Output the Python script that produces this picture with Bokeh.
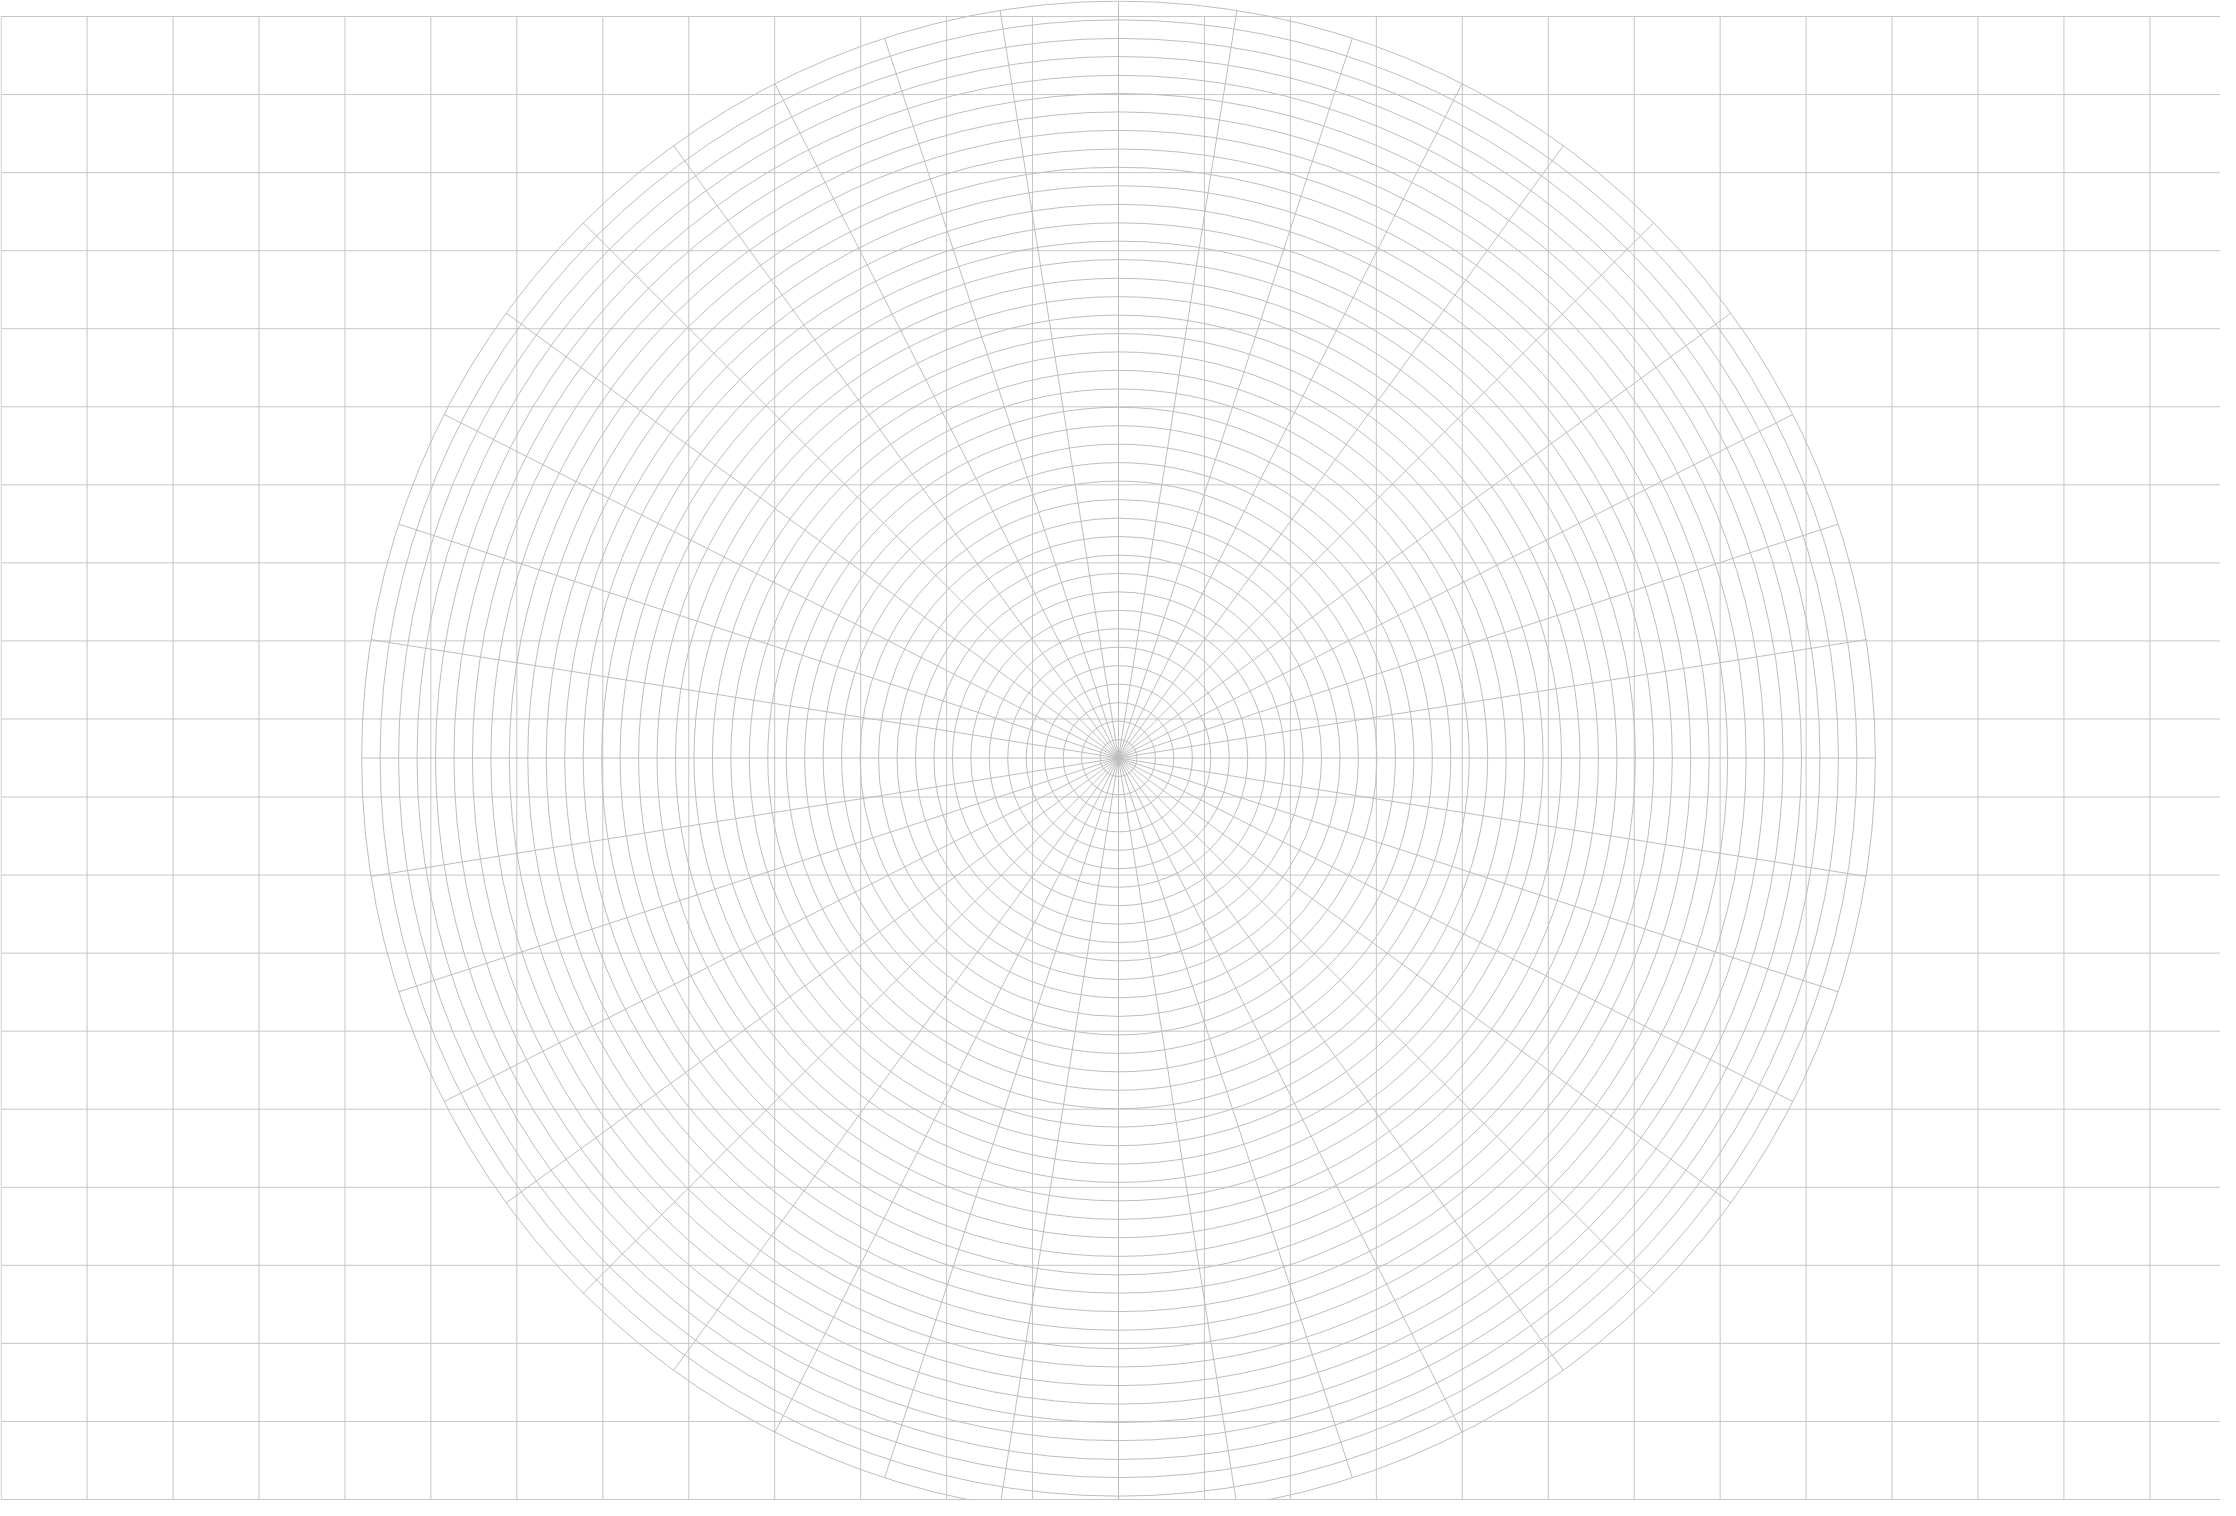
import math
from bokeh.plotting import figure
from bokeh.models import Range1d
from bokeh.embed import file_html
from bokeh.resources import INLINE

# ---- data ----
ring_values = list(range(1, 42))                 # concentric rings (ring index)
spoke_angles_deg = list(range(0, 360, 9))        # radial spokes every 9 degrees
x_grid_values = list(range(-13, 14))             # vertical background grid lines
y_grid_values = [k + 0.5 for k in range(-10, 10)]  # horizontal background grid lines

# ---- layout (pixels per unit) ----
RING_PX = 18.46
XGRID_PX = 85.95
YGRID_PX = 78.05
W, H = 2220, 1500
CX, CY = 1118.0, 757.5   # centre position within the figure (pixels from left/top)

LINE_COLOR = "#bebebe"
GRID_COLOR = "#c6c6c6"

p = figure(width=W, height=H, output_backend="svg", toolbar_location=None,
           x_range=Range1d(-CX, W - CX), y_range=Range1d(-(H - CY), CY),
           x_axis_location=None, y_axis_location=None, min_border=0)
p.outline_line_color = None
p.background_fill_color = "white"
p.border_fill_color = "white"
p.xgrid.grid_line_color = None
p.ygrid.grid_line_color = None

# rectangular background grid, confined to its own frame
gx = [v * XGRID_PX for v in x_grid_values]
gy = [v * YGRID_PX for v in y_grid_values]
x_lo, x_hi = min(gx), max(gx)
y_lo, y_hi = min(gy), max(gy)
p.segment(x0=gx, y0=[y_lo] * len(gx), x1=gx, y1=[y_hi] * len(gx),
          line_color=GRID_COLOR, line_width=1)
p.segment(x0=[x_lo] * len(gy), y0=gy, x1=[x_hi] * len(gy), y1=gy,
          line_color=GRID_COLOR, line_width=1)

# polar grid
radii = [r * RING_PX for r in ring_values]
p.circle(x=[0] * len(radii), y=[0] * len(radii), radius=radii,
         fill_color=None, line_color=LINE_COLOR, line_width=1)

r_max = max(ring_values) * RING_PX
x1 = [r_max * math.cos(math.radians(a)) for a in spoke_angles_deg]
y1 = [r_max * math.sin(math.radians(a)) for a in spoke_angles_deg]
p.segment(x0=[0] * len(x1), y0=[0] * len(y1), x1=x1, y1=y1,
          line_color=LINE_COLOR, line_width=1)

open("out.html", "w").write(file_html(p, INLINE))
